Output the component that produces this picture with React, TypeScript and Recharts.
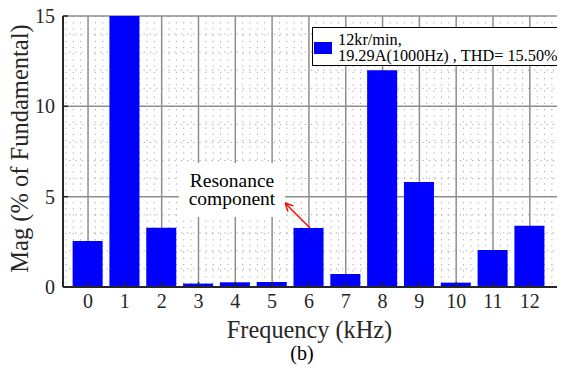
import React from 'react';
import {
  BarChart,
  Bar,
  XAxis,
  YAxis,
  CartesianGrid,
  ReferenceLine,
  ReferenceDot,
  Legend,
} from 'recharts';

// Harmonic spectrum, magnitude in % of the fundamental (1 kHz bin is the fundamental itself)
const frequencies = [0, 1, 2, 3, 4, 5, 6, 7, 8, 9, 10, 11, 12];
const magnitudes = [2.55, 100, 3.28, 0.19, 0.26, 0.28, 3.27, 0.72, 12.0, 5.81, 0.24, 2.05, 3.39];

const xTicks = [0, 1, 2, 3, 4, 5, 6, 7, 8, 9, 10, 11, 12];
const yTicks = [0, 5, 10, 15];

const legendLines = ['12kr/min,', '19.29A(1000Hz) , THD= 15.50%'];
const noteLines = ['Resonance', 'component'];
const xTitle = 'Frequency (kHz)';
const yTitle = 'Mag (% of Fundamental)';
const caption = '(b)';

const X_DOMAIN: [number, number] = [-0.68, 13.2];
const Y_DOMAIN: [number, number] = [0, 15];

// note anchor and arrow (from the top of the 6 kHz bar towards the note)
const notePos = { x: 3.91, y: 5.37 };
const arrowFrom = { x: 6.03, y: 3.27 };
const arrowTo = { x: 5.35, y: 4.65 };

const SERIF = "'Liberation Serif', 'Times New Roman', serif";
const AXIS_COLOR = '#262626';
const serifStyle = { fontFamily: SERIF };

const data = frequencies.map((f, i) => ({ freq: f, mag: magnitudes[i] }));

// minor grid values: 0.2 steps on x, 1 steps on y, skipping the major ticks
const minorX: number[] = [];
for (let k = Math.ceil(X_DOMAIN[0] * 5); k <= Math.floor(X_DOMAIN[1] * 5); k++) {
  if (k % 5 !== 0) minorX.push(k / 5);
}
const minorY: number[] = [];
for (let v = Y_DOMAIN[0] + 1; v < Y_DOMAIN[1]; v++) {
  if (v % 5 !== 0) minorY.push(v);
}

// grid line positions in pixels, using the axis scale when it is handed over
const gridX = (values: number[]) => (args: any) => {
  const s = args?.xAxis?.scale;
  if (typeof s === 'function') return values.map((v) => s(v));
  if (s && typeof s.map === 'function') return values.map((v) => s.map(v));
  const { left, width } = args.offset;
  return values.map((v) => left + ((v - X_DOMAIN[0]) / (X_DOMAIN[1] - X_DOMAIN[0])) * width);
};
const gridY = (values: number[]) => (args: any) => {
  const s = args?.yAxis?.scale;
  if (typeof s === 'function') return values.map((v) => s(v));
  if (s && typeof s.map === 'function') return values.map((v) => s.map(v));
  const { top, height } = args.offset;
  return values.map((v) => top + height - ((v - Y_DOMAIN[0]) / (Y_DOMAIN[1] - Y_DOMAIN[0])) * height);
};

const YTitle = (props: any) => {
  const vb = props.viewBox;
  const x = vb.x + 19.6;
  const y = vb.y + vb.height / 2 - 3;
  return (
    <text
      x={x}
      y={y}
      transform={`rotate(-90 ${x} ${y})`}
      textAnchor="middle"
      fontFamily={SERIF}
      style={serifStyle}
      fontSize={24.5}
      fill={AXIS_COLOR}
    >
      {yTitle}
    </text>
  );
};

const XTitle = (props: any) => {
  const vb = props.viewBox;
  return (
    <g>
      <text
        x={vb.x + 246.5}
        y={vb.y + 50.6}
        textAnchor="middle"
        fontFamily={SERIF}
        style={serifStyle}
        fontSize={24.3}
        fill={AXIS_COLOR}
      >
        {xTitle}
      </text>
      <text
        x={vb.x + 239}
        y={vb.y + 72.6}
        textAnchor="middle"
        fontFamily={SERIF}
        style={serifStyle}
        fontSize={20}
        fill="#000"
      >
        {caption}
      </text>
    </g>
  );
};

const NoteBox = (props: any) => {
  const { cx, cy } = props;
  return (
    <g>
      <rect x={cx - 53} y={cy - 27} width={106} height={54} fill="#fff" />
      <text x={cx} y={cy - 2.5} textAnchor="middle" fontFamily={SERIF} style={serifStyle} fontSize={19.5} fill="#000">
        {noteLines[0]}
      </text>
      <text x={cx} y={cy + 15.5} textAnchor="middle" fontFamily={SERIF} style={serifStyle} fontSize={19.5} fill="#000">
        {noteLines[1]}
      </text>
    </g>
  );
};

const Arrow = (props: any) => {
  const { x1, y1, x2, y2 } = props;
  const ang = Math.atan2(y2 - y1, x2 - x1);
  const len = 9;
  const spread = Math.PI / 7;
  const ax = x2 - len * Math.cos(ang - spread);
  const ay = y2 - len * Math.sin(ang - spread);
  const bx = x2 - len * Math.cos(ang + spread);
  const by = y2 - len * Math.sin(ang + spread);
  return (
    <g>
      <line x1={x1} y1={y1} x2={x2} y2={y2} stroke="#ff0000" strokeWidth={1.4} />
      <polyline
        points={`${ax},${ay} ${x2},${y2} ${bx},${by}`}
        fill="none"
        stroke="#ff0000"
        strokeWidth={1.4}
      />
    </g>
  );
};

const LegendBox = () => (
  <div
    style={{
      position: 'relative',
      boxSizing: 'border-box',
      width: 248,
      height: 39,
      border: '1px solid #000',
      background: '#fff',
      fontFamily: SERIF,
      fontSize: 16.3,
      lineHeight: '16.5px',
      color: '#000',
      whiteSpace: 'nowrap',
    }}
  >
    <div
      style={{ position: 'absolute', left: 1, top: 14, width: 18, height: 12, background: '#0000ff' }}
    />
    <div style={{ position: 'absolute', left: 25, top: 3.5 }}>
      <div>{legendLines[0]}</div>
      <div>{legendLines[1]}</div>
    </div>
  </div>
);

export default function App() {
  return (
    <div style={{ width: 557, height: 367, overflow: 'hidden', fontFamily: SERIF }}>
      <BarChart
        width={620}
        height={367}
        data={data}
        margin={{ top: 8, right: 54, bottom: 58, left: 0 }}
        style={serifStyle}
      >
        <CartesianGrid
          stroke="#a6a6a6"
          strokeWidth={1}
          strokeDasharray="1.2 5"
          verticalCoordinatesGenerator={gridX(minorX)}
          horizontalCoordinatesGenerator={gridY(minorY)}
        />
        <CartesianGrid
          stroke="#8e8e8e"
          strokeWidth={1.5}
          verticalCoordinatesGenerator={gridX(xTicks)}
          horizontalCoordinatesGenerator={gridY(yTicks)}
        />
        <XAxis
          dataKey="freq"
          type="number"
          domain={X_DOMAIN}
          allowDataOverflow
          ticks={xTicks}
          interval={0}
          height={30}
          tickSize={-5}
          tickMargin={12}
          tickLine={{ stroke: AXIS_COLOR, strokeWidth: 1.5 }}
          axisLine={{ stroke: AXIS_COLOR, strokeWidth: 2 }}
          tick={{ fontFamily: SERIF, fontSize: 20, fill: AXIS_COLOR }}
          label={XTitle}
        />
        <XAxis
          xAxisId="top"
          dataKey="freq"
          type="number"
          orientation="top"
          domain={X_DOMAIN}
          allowDataOverflow
          ticks={xTicks}
          interval={0}
          height={0}
          tickSize={-5}
          tick={false}
          tickLine={{ stroke: AXIS_COLOR, strokeWidth: 1.5 }}
          axisLine={{ stroke: AXIS_COLOR, strokeWidth: 2 }}
        />
        <YAxis
          type="number"
          domain={Y_DOMAIN}
          allowDataOverflow
          ticks={yTicks}
          interval={0}
          width={55}
          tickSize={-5}
          tickMargin={13}
          tickLine={{ stroke: AXIS_COLOR, strokeWidth: 1.5 }}
          axisLine={{ stroke: AXIS_COLOR, strokeWidth: 2 }}
          tick={{ fontFamily: SERIF, fontSize: 20, fill: AXIS_COLOR }}
          label={YTitle}
        />
        <Bar
          dataKey="mag"
          name={legendLines.join(' ')}
          fill="#0000ff"
          barSize={30}
          isAnimationActive={false}
        />
        <ReferenceDot x={notePos.x} y={notePos.y} shape={NoteBox} />
        <ReferenceLine segment={[arrowFrom, arrowTo]} shape={Arrow} />
        <Legend
          layout="horizontal"
          verticalAlign="middle"
          align="center"
          wrapperStyle={{ top: 19, left: 304, width: 248, height: 39 }}
          content={LegendBox}
        />
      </BarChart>
    </div>
  );
}
